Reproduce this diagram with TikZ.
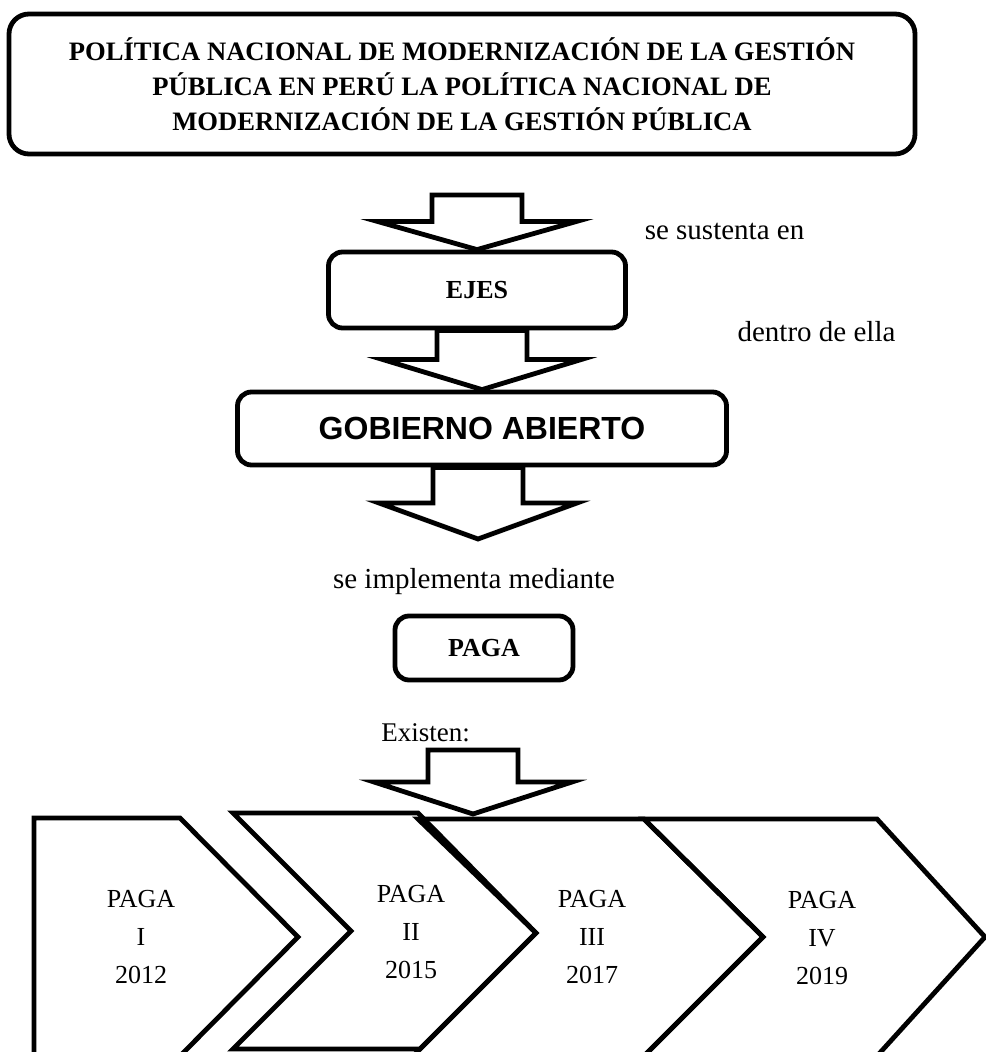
\documentclass[tikz,border=0pt]{standalone}
\usepackage{fontspec}
\setmainfont{Liberation Serif}
\newfontfamily\arialfont{Liberation Sans}
\usepackage{tikz}
\usetikzlibrary{calc}
\tikzset{
    titlebox/.style={rectangle, rounded corners=10pt, draw, line width=2.4pt, align=center, minimum width=453pt, minimum height=70pt, font=\bfseries\fontsize{13.3}{17.5}\selectfont},
    roundbox/.style={rectangle, rounded corners=7pt, draw, line width=2.4pt, font=\bfseries\fontsize{13}{15}\selectfont},
    linktext/.style={anchor=base, font=\fontsize{14.5}{17}\selectfont},
    pagatext/.style={align=center, font=\fontsize{13}{19}\selectfont},
    blockarrow/.style={draw, line width=2.4pt},
    chevron/.style={draw, line width=2.4pt}
}
% hollow block arrow: start, tip, head length
\newcommand{\bigarrow}[3]{%
    \draw[blockarrow] ($(#1 -| #2)+(-45,0)$) -- ($(#2)+(-45,-#3)$) -- ($(#2)+(-99,-#3)$) -- (#2)
        -- ($(#2)+(99,-#3)$) -- ($(#2)+(45,-#3)$) -- ($(#1 -| #2)+(45,0)$) -- cycle;}

\begin{document}
\begin{tikzpicture}[x=0.5pt, y=-0.5pt]
    \useasboundingbox (0,0) rectangle (985,1052);

    \node (title) [titlebox] at (462,84) {POLÍTICA NACIONAL DE MODERNIZACIÓN DE LA GESTIÓN\\PÚBLICA EN PERÚ LA POLÍTICA NACIONAL DE\\MODERNIZACIÓN DE LA GESTIÓN PÚBLICA};

    \node (ejes) [roundbox, minimum width=148.5pt, minimum height=38pt] at (477,290) {EJES};
    \node (gob) [roundbox, minimum width=244.5pt, minimum height=36.5pt, font=\arialfont\bfseries\fontsize{16}{18}\selectfont] at (482,428.5) {GOBIERNO ABIERTO};
    \node (paga) [roundbox, minimum width=89pt, minimum height=32pt] at (484,648) {PAGA};

    \node (sustenta) [linktext] at (724.5,240) {se sustenta en};
    \node (dentro) [linktext] at (816.5,342) {dentro de ella};
    \node (implementa) [linktext] at (474,588) {se implementa mediante};
    \node (existen) [linktext, font=\fontsize{13.5}{16}\selectfont] at (425.5,741) {Existen:};

    \coordinate (a1) at (478,195);
    \coordinate (a3) at (478,539);
    \coordinate (a4) at (473,750);
    \coordinate (a4e) at (473,814);

    \bigarrow{a1}{ejes.north}{28}
    \bigarrow{ejes.south}{gob.north}{30}
    \bigarrow{gob.south}{a3}{36}
    \bigarrow{a4}{a4e}{32}

    % chevrons
    \draw[chevron] (34,818) -- (180,818) -- (298,937) -- (180,1056) -- (34,1056) -- cycle;
    \draw[chevron] (233,813) -- (418,813) -- (536,933) -- (420,1049) -- (233,1049) -- (351,931) -- cycle;
    \draw[chevron] (418,819) -- (644,819) -- (763,937) -- (644,1056) -- (413,1056) -- (536,933) -- cycle;
    \draw[chevron] (644,819) -- (877,819) -- (985,937) -- (877,1056) -- (644,1056) -- (763,937) -- cycle;

    \node (paga1) [pagatext] at (141,937) {PAGA\\I\\2012};
    \node (paga2) [pagatext] at (411,932) {PAGA\\II\\2015};
    \node (paga3) [pagatext] at (592,937) {PAGA\\III\\2017};
    \node (paga4) [pagatext] at (822,938) {PAGA\\IV\\2019};
\end{tikzpicture}
\end{document}
